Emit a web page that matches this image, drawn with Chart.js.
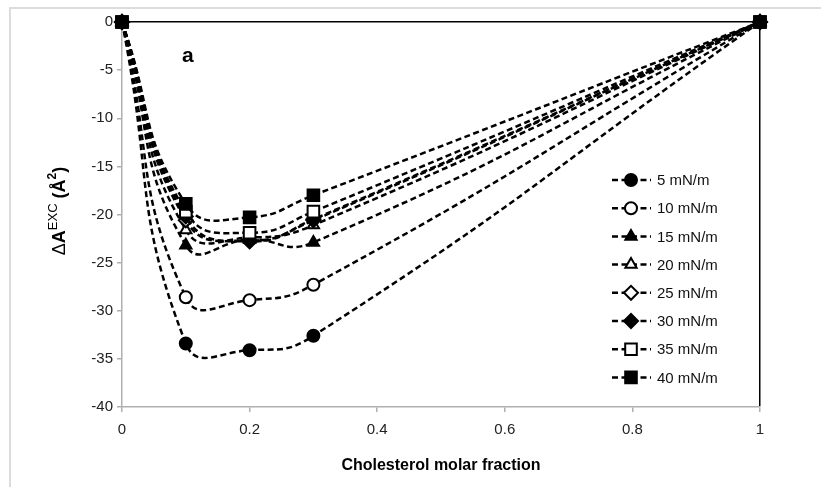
<!DOCTYPE html>
<html>
<head>
<meta charset="utf-8">
<script src="https://cdn.jsdelivr.net/npm/chart.js@4/dist/chart.umd.min.js"></script>
<style>
  html, body { margin: 0; padding: 0; background: #fff; }
  #wrap { position: absolute; left: 0; top: 0; width: 821px; height: 487px; }
</style>
</head>
<body>
<div id="wrap"><canvas id="c" width="821" height="487"></canvas></div>
<script>
// ---- data ----
const xValues = [0, 0.1, 0.2, 0.3, 1];
const seriesLabels = ['5 mN/m', '10 mN/m', '15 mN/m', '20 mN/m', '25 mN/m', '30 mN/m', '35 mN/m', '40 mN/m'];
const s5  = [0, -33.4, -34.1, -32.6, 0];
const s10 = [0, -28.6, -28.9, -27.3, 0];
const s15 = [0, -23.2, -22.6, -22.9, 0];
const s20 = [0, -21.6, -22.4, -21.1, 0];
const s25 = [0, -20.6, -22.7, -20.6, 0];
const s30 = [0, -20.2, -22.8, -20.5, 0];
const s35 = [0, -19.7, -21.9, -19.7, 0];
const s40 = [0, -18.9, -20.3, -18.0, 0];
const xTickValues = [0, 0.2, 0.4, 0.6, 0.8, 1];
const yTickValues = [0, -5, -10, -15, -20, -25, -30, -35, -40];
const xTitle = 'Cholesterol molar fraction';
const panelLabel = 'a';

const allSeries = [s5, s10, s15, s20, s25, s30, s35, s40];
const markerStyles = [
  {style: 'circle', filled: true},
  {style: 'circle', filled: false},
  {style: 'triangle', filled: true},
  {style: 'triangle', filled: false},
  {style: 'rectRot', filled: false},
  {style: 'rectRot', filled: true},
  {style: 'rect', filled: false},
  {style: 'rect', filled: true}
];
const markerRadius = {circle: 6, triangle: 6.5, rectRot: 7, rect: 8.2};

const datasets = allSeries.map((vals, i) => {
  const m = markerStyles[i];
  return {
    label: seriesLabels[i],
    data: vals.map((v, j) => ({x: xValues[j], y: v})),
    borderColor: '#000',
    borderWidth: 2.5,
    borderDash: [6, 3.5],
    tension: 0.5,
    fill: false,
    clip: false,
    pointStyle: m.style,
    pointRadius: markerRadius[m.style],
    pointBorderWidth: 2,
    pointBorderColor: '#000',
    pointBackgroundColor: m.filled ? '#000' : '#fff',
    order: allSeries.length - 1 - i
  };
});

const FONT = '"Liberation Sans", Arial, sans-serif';

const decorPlugin = {
  id: 'decor',
  beforeDraw(chart) {
    const ctx = chart.ctx;
    ctx.save();
    ctx.fillStyle = '#fff';
    ctx.fillRect(0, 0, chart.width, chart.height);
    ctx.strokeStyle = '#dcdcdc';
    ctx.lineWidth = 2;
    ctx.beginPath();
    ctx.moveTo(10, 487);
    ctx.lineTo(10, 8);
    ctx.lineTo(821, 8);
    ctx.stroke();
    ctx.restore();
  },
  afterDraw(chart) {
    const ctx = chart.ctx;
    const area = chart.chartArea;
    ctx.save();
    // panel label
    ctx.fillStyle = '#000';
    ctx.font = 'bold 21px ' + FONT;
    ctx.textAlign = 'left';
    ctx.textBaseline = 'alphabetic';
    ctx.fillText(panelLabel, 182, 62);

    // x title
    ctx.font = 'bold 16px ' + FONT;
    ctx.textAlign = 'center';
    ctx.textBaseline = 'middle';
    ctx.fillText(xTitle, (area.left + area.right) / 2, 466);

    // y title rotated with superscript
    ctx.translate(60, 211);
    ctx.rotate(-Math.PI / 2);
    const parts = [
      {t: '\u0394', f: '18px ' + FONT, dy: 0},
      {t: 'A', f: 'bold 18px ' + FONT, dy: 0},
      {t: 'EXC', f: '13px ' + FONT, dy: -7},
      {t: ' (\u00C5', f: 'bold 18px ' + FONT, dy: 0},
      {t: '2', f: 'bold 12px ' + FONT, dy: -7},
      {t: ')', f: 'bold 18px ' + FONT, dy: 0}
    ];
    let total = 0;
    parts.forEach(p => { ctx.font = p.f; p.w = ctx.measureText(p.t).width; total += p.w; });
    let px = -total / 2;
    ctx.textAlign = 'left';
    ctx.textBaseline = 'middle';
    parts.forEach(p => { ctx.font = p.f; ctx.fillText(p.t, px, p.dy); px += p.w; });
    ctx.restore();

    // legend
    ctx.save();
    const lx0 = 612, lx1 = 651, mx = 631, tx = 657;
    chart.data.datasets.forEach((ds, i) => {
      const y = 180 + i * 28.2;
      ctx.strokeStyle = '#000';
      ctx.lineWidth = 2.5;
      ctx.setLineDash([6, 3.5]);
      ctx.beginPath();
      ctx.moveTo(lx0, y);
      ctx.lineTo(lx1, y);
      ctx.stroke();
      ctx.setLineDash([]);
      ctx.fillStyle = ds.pointBackgroundColor;
      ctx.strokeStyle = '#000';
      ctx.lineWidth = 2;
      Chart.helpers.drawPoint(ctx, {pointStyle: ds.pointStyle, radius: ds.pointRadius, rotation: 0, borderWidth: 2}, mx, y);
      ctx.fillStyle = '#111';
      ctx.font = '15px ' + FONT;
      ctx.textAlign = 'left';
      ctx.textBaseline = 'middle';
      ctx.fillText(ds.label, tx, y + 1);
    });
    ctx.restore();
  }
};

new Chart(document.getElementById('c'), {
  type: 'line',
  data: { datasets },
  plugins: [decorPlugin],
  options: {
    responsive: false,
    animation: false,
    devicePixelRatio: 1,
    layout: { padding: { top: 22, right: 61, left: 0, bottom: 0 } },
    plugins: { legend: { display: false }, tooltip: { enabled: false } },
    scales: {
      x: {
        type: 'linear',
        min: 0, max: 1,
        afterFit(scale) { scale.height = 80; },
        afterBuildTicks(scale) { scale.ticks = xTickValues.map(v => ({value: v})); },
        ticks: {
          color: '#222',
          font: { family: FONT, size: 15 },
          padding: 9,
          maxRotation: 0,
          callback: (v) => String(v)
        },
        border: { display: true, color: '#b0b0b0', width: 1.5 },
        grid: {
          drawOnChartArea: true,
          color: (c) => (c.tick && c.tick.value === 1) ? '#000' : 'rgba(0,0,0,0)',
          lineWidth: 1.5,
          tickColor: '#b0b0b0',
          tickLength: 5
        }
      },
      y: {
        type: 'linear',
        min: -40, max: 0,
        afterFit(scale) { scale.width = 122; },
        afterBuildTicks(scale) { scale.ticks = yTickValues.slice().reverse().map(v => ({value: v})); },
        ticks: {
          color: '#222',
          font: { family: FONT, size: 15 },
          padding: 4,
          callback: (v) => String(v)
        },
        border: { display: true, color: '#b0b0b0', width: 1.5 },
        grid: {
          color: (c) => (c.tick && c.tick.value === 0) ? '#000' : 'rgba(0,0,0,0)',
          lineWidth: 1.5,
          tickColor: '#b0b0b0',
          tickLength: 5
        }
      }
    }
  }
});
</script>
</body>
</html>
